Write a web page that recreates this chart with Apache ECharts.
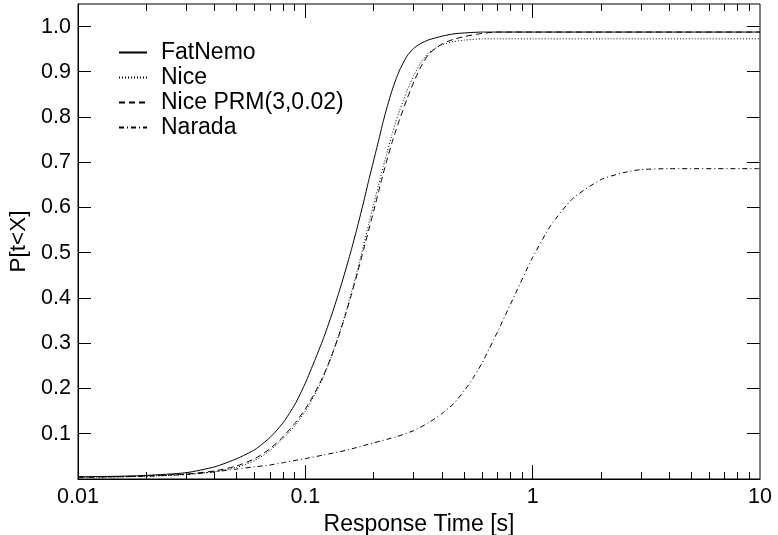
<!DOCTYPE html>
<html>
<head>
<meta charset="utf-8">
<title>Response time CDF</title>
<script src="https://cdn.jsdelivr.net/npm/echarts@6/dist/echarts.min.js"></script>
<style>
  html, body { margin: 0; padding: 0; background: #fff; }
  #chart { width: 778px; height: 535px; }
</style>
</head>
<body>
<div id="chart"></div>
<script>
// response time [s] sample points for the three fast curves
var xFast = [0.01, 0.015, 0.02, 0.03, 0.04, 0.05, 0.06, 0.07, 0.08, 0.09, 0.1, 0.11, 0.12, 0.13, 0.14,
    0.15, 0.16, 0.17, 0.18, 0.19, 0.2, 0.21, 0.22, 0.23, 0.24, 0.25, 0.26, 0.28, 0.3, 0.32, 0.35, 0.4, 0.45, 0.5,
    0.6, 0.7, 1, 2, 5, 10];
var fatNemo = [0.005, 0.006, 0.008, 0.014, 0.027, 0.045, 0.065, 0.092, 0.125, 0.165, 0.212, 0.262, 0.31, 0.36, 0.41,
    0.46, 0.51, 0.56, 0.61, 0.66, 0.705, 0.748, 0.79, 0.826, 0.857, 0.883, 0.904, 0.935, 0.952, 0.962, 0.971, 0.979,
    0.984, 0.986, 0.988, 0.988, 0.988, 0.988, 0.988, 0.988];
var nice = [0.004, 0.005, 0.006, 0.01, 0.016, 0.026, 0.041, 0.063, 0.09, 0.118, 0.15, 0.186, 0.225, 0.27, 0.317,
    0.365, 0.415, 0.465, 0.515, 0.563, 0.608, 0.65, 0.69, 0.726, 0.76, 0.79, 0.815, 0.858, 0.892, 0.918, 0.943, 0.96,
    0.967, 0.970, 0.973, 0.973, 0.973, 0.973, 0.973, 0.973];
var nicePrm = [0.004, 0.005, 0.007, 0.011, 0.018, 0.029, 0.045, 0.067, 0.094, 0.123, 0.155, 0.19, 0.228, 0.27, 0.315,
    0.362, 0.41, 0.458, 0.505, 0.55, 0.593, 0.635, 0.675, 0.71, 0.742, 0.77, 0.795, 0.84, 0.878, 0.908, 0.94, 0.962,
    0.972, 0.978, 0.985, 0.988, 0.988, 0.988, 0.988, 0.988];

// Narada is much slower
var xNarada = [0.01, 0.015, 0.02, 0.03, 0.04, 0.05, 0.06, 0.07, 0.08, 0.09, 0.1, 0.12, 0.15, 0.2, 0.25, 0.3, 0.35,
    0.4, 0.45, 0.5, 0.55, 0.6, 0.7, 0.8, 1, 1.2, 1.5, 2, 2.5, 3, 4, 10];
var narada = [0.004, 0.005, 0.006, 0.01, 0.016, 0.022, 0.027, 0.031, 0.036, 0.041, 0.045, 0.053, 0.063, 0.08, 0.093,
    0.107, 0.125, 0.145, 0.167, 0.195, 0.225, 0.257, 0.325, 0.387, 0.49, 0.56, 0.62, 0.662, 0.677, 0.684, 0.686, 0.686];

var seriesNames = ['FatNemo', 'Nice', 'Nice PRM(3,0.02)', 'Narada'];

// tick values
var yTicks = [0.1, 0.2, 0.3, 0.4, 0.5, 0.6, 0.7, 0.8, 0.9, 1.0];
var xMajor = [0.1, 1];
var xMinor = [0.02, 0.03, 0.04, 0.05, 0.06, 0.07, 0.08, 0.09,
    0.2, 0.3, 0.4, 0.5, 0.6, 0.7, 0.8, 0.9,
    2, 3, 4, 5, 6, 7, 8, 9];
var xMin = 0.01, xMax = 10, yMin = 0, yMax = 1.05;

function pairs(xs, ys) {
    var out = [];
    for (var i = 0; i < xs.length; i++) {
        out.push([xs[i], ys[i]]);
    }
    return out;
}

var font = "'Liberation Sans', Arial, sans-serif";
var black = '#000';

var chart = echarts.init(document.getElementById('chart'));

function lineSeries(name, data, dash) {
    return {
        name: name,
        type: 'line',
        data: data,
        symbol: 'none',
        showSymbol: false,
        smooth: 0.2,
        lineStyle: { color: black, width: 1, type: dash },
        itemStyle: { color: black },
        emphasis: { disabled: true }
    };
}

var option = {
    animation: false,
    backgroundColor: '#fff',
    textStyle: { fontFamily: font },
    grid: {
        left: 78,
        right: 18,
        top: 4,
        bottom: 56,
        containLabel: false,
        outerBoundsMode: 'none',
        show: true,
        borderColor: black,
        borderWidth: 1,
        backgroundColor: 'transparent'
    },
    legend: {
        orient: 'vertical',
        left: 118,
        top: 41,
        padding: 0,
        itemGap: 2,
        itemWidth: 28,
        itemHeight: 14,
        selectedMode: false,
        itemStyle: { opacity: 0 },
        textStyle: { color: black, fontSize: 23, fontFamily: font, padding: [0, 0, 0, 9] },
        data: seriesNames
    },
    xAxis: {
        type: 'log',
        logBase: 10,
        min: xMin,
        max: xMax,
        name: 'Response Time [s]',
        nameLocation: 'middle',
        nameGap: 29,
        nameTextStyle: { color: black, fontSize: 23, fontFamily: font },
        axisLine: { show: true, onZero: false, lineStyle: { color: black, width: 1 } },
        axisTick: { show: false },
        minorTick: { show: false },
        axisLabel: { color: black, fontSize: 21.5, fontFamily: font, margin: 7 },
        splitLine: { show: false }
    },
    yAxis: {
        type: 'value',
        min: yMin,
        max: yMax,
        interval: 0.1,
        name: 'P[t<X]',
        nameLocation: 'middle',
        nameGap: 40,
        nameRotate: 90,
        nameTextStyle: { color: black, fontSize: 22.5, fontFamily: font },
        axisLine: { show: true, onZero: false, lineStyle: { color: black, width: 1 } },
        axisTick: { show: false },
        axisLabel: {
            color: black,
            fontSize: 21.5,
            fontFamily: font,
            margin: 7,
            showMinLabel: false,
            showMaxLabel: false,
            formatter: function (v) {
                for (var i = 0; i < yTicks.length; i++) {
                    if (Math.abs(yTicks[i] - v) < 1e-6) return yTicks[i].toFixed(1);
                }
                return '';
            }
        },
        splitLine: { show: false }
    },
    series: [
        lineSeries(seriesNames[0], pairs(xFast, fatNemo), 'solid'),
        lineSeries(seriesNames[1], pairs(xFast, nice), [1, 2]),
        lineSeries(seriesNames[2], pairs(xFast, nicePrm), [6, 4]),
        lineSeries(seriesNames[3], pairs(xNarada, narada), [5, 3, 1, 3])
    ]
};

chart.setOption(option);

// inward tick marks on all four sides, placed through the chart's own scales
// (axisTick.inside draws nothing in this build)
function px(x, y) {
    return chart.convertToPixel({ gridIndex: 0 }, [x, y]);
}
function snap(v) {
    return Math.round(v - 0.5) + 0.5;
}
function tick(x1, y1, x2, y2) {
    return {
        type: 'line',
        silent: true,
        z: 100,
        shape: { x1: x1, y1: y1, x2: x2, y2: y2 },
        style: { stroke: black, lineWidth: 1 }
    };
}

var ticks = [];
xMajor.concat(xMinor).forEach(function (v) {
    var len = xMajor.indexOf(v) >= 0 ? 14 : 7;
    var bottom = px(v, yMin), top = px(v, yMax);
    var x = snap(bottom[0]);
    ticks.push(tick(x, bottom[1], x, bottom[1] - len));
    ticks.push(tick(x, top[1], x, top[1] + len));
});
yTicks.forEach(function (v) {
    var left = px(xMin, v), right = px(xMax, v);
    var y = snap(left[1]);
    ticks.push(tick(left[0], y, left[0] + 13, y));
    ticks.push(tick(right[0], y, right[0] - 13, y));
});

chart.setOption({ graphic: { elements: ticks } });
window.onresize = chart.resize;
</script>
</body>
</html>
